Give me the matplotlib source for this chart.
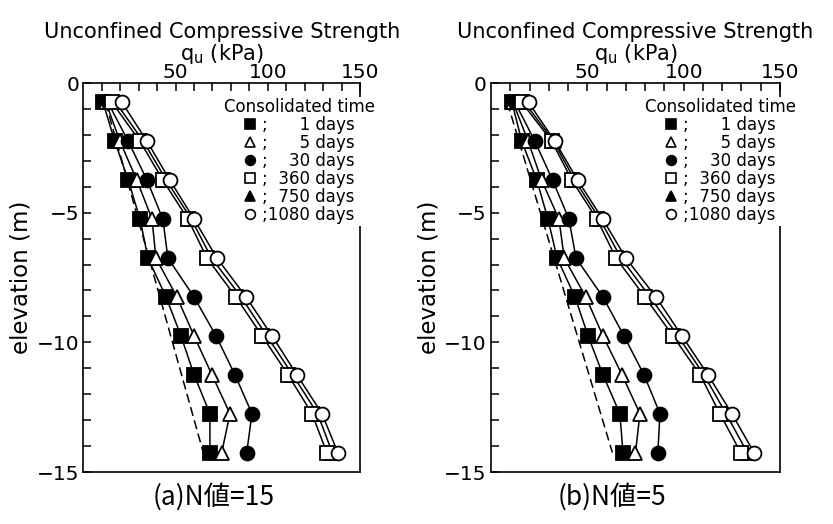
import numpy as np
import matplotlib.pyplot as plt
from matplotlib.lines import Line2D

# depth of each test point (m)
depth = [-0.75, -2.25, -3.75, -5.25, -6.75, -8.25, -9.75, -11.25, -12.75, -14.25]
days = ['1', '5', '30', '360', '750', '1080']

# (a) N = 15, qu (kPa) per consolidation time
qu_a_1 = [10.6, 17.0, 24.3, 30.7, 35.0, 44.8, 52.9, 60.0, 68.6, 68.6]
qu_a_5 = [12.2, 19.8, 29.0, 37.2, 39.3, 50.7, 60.0, 69.7, 79.5, 75.0]
qu_a_30 = [13.3, 24.3, 34.5, 43.1, 45.8, 60.0, 71.9, 82.2, 91.4, 88.6]
qu_a_360 = [15.5, 30.7, 43.1, 56.7, 67.0, 82.7, 96.9, 111.0, 124.0, 132.0]
qu_a_750 = [17.5, 32.5, 45.0, 58.5, 69.5, 85.5, 99.5, 113.5, 127.0, 135.0]
qu_a_1080 = [20.9, 34.5, 46.9, 60.0, 72.4, 88.2, 102.3, 115.8, 129.4, 138.0]
dash_depth = [-0.75, -14.25]
dash_a = [12.0, 65.0]

# (b) N = 5
qu_b_1 = [10.9, 16.0, 23.8, 29.6, 34.3, 43.6, 50.4, 58.1, 66.9, 68.5]
qu_b_5 = [11.5, 19.3, 26.3, 35.3, 38.0, 49.2, 58.1, 68.0, 77.3, 75.0]
qu_b_30 = [12.5, 22.8, 32.0, 40.5, 44.1, 58.1, 69.0, 79.4, 87.7, 86.6]
qu_b_360 = [16.0, 31.6, 42.0, 55.0, 64.9, 79.9, 94.4, 108.5, 118.8, 129.6]
qu_b_750 = [17.5, 32.5, 43.5, 56.5, 67.5, 82.5, 97.0, 110.5, 122.0, 133.0]
qu_b_1080 = [19.5, 33.2, 45.0, 58.0, 70.0, 85.6, 99.1, 112.6, 125.0, 136.5]
dash_b = [8.5, 63.0]

# marker style: (marker, facecolor)
styles = [('s', 'black'), ('^', 'white'), ('o', 'black'),
          ('s', 'white'), ('^', 'black'), ('o', 'white')]

plt.rcParams['font.family'] = ['DejaVu Sans']

fig = plt.figure(figsize=(8.33, 5.24), dpi=100)
ax_a = fig.add_axes([0.1002, 0.0992, 0.3319, 0.7424])
ax_b = fig.add_axes([0.5894, 0.0992, 0.3470, 0.7424])


def draw_panel(ax, series, dash):
    # 750 days first so its markers sit under the open ones
    order = [4, 0, 1, 2, 3, 5]
    for i in order:
        m, fc = styles[i]
        ax.plot(series[i], depth, '-', color='black', lw=1.1,
                marker=m, markersize=10, markerfacecolor=fc,
                markeredgecolor='black', markeredgewidth=1.3, zorder=3)
    ax.plot(dash, dash_depth, '--', color='black', lw=1.1, dashes=(6, 3), zorder=2)

    ax.set_xlim(0, 150)
    ax.set_ylim(-15, 0)
    ax.xaxis.tick_top()
    ax.xaxis.set_label_position('top')
    ax.set_xticks([50, 100, 150])
    ax.set_xticks(np.arange(10, 151, 10), minor=True)
    ax.set_yticks([0, -5, -10, -15])
    ax.set_yticks(np.arange(-14, 0, 1), minor=True)
    ax.tick_params(which='both', direction='in', length=6, width=1.1,
                   labelsize=14.5, top=True, bottom=False, left=True, right=False)
    ax.tick_params(axis='x', pad=1)
    ax.tick_params(axis='y', pad=3)
    for s in ax.spines.values():
        s.set_linewidth(1.2)

    ax.set_xlabel('q$_\\mathregular{u}$ (kPa)', fontsize=15, labelpad=2)
    ax.set_title('Unconfined Compressive Strength', fontsize=15, pad=3)
    ax.set_ylabel('elevation (m)', fontsize=16.5, labelpad=3)

    handles = [Line2D([], [], ls='none', marker=m, markersize=7,
                      markerfacecolor=fc, markeredgecolor='black',
                      markeredgewidth=1.2) for m, fc in styles]
    labels = [';' + '\u2007' * (4 - len(d)) + d + ' days' for d in days]
    leg = ax.legend(handles, labels, title='Consolidated time',
                    loc='upper right', bbox_to_anchor=(1.06, 0.965),
                    fontsize=12, title_fontsize=12, frameon=True,
                    fancybox=False, framealpha=1, facecolor='white',
                    edgecolor='none', borderpad=0.1, labelspacing=0,
                    handlelength=0.8, handletextpad=0.3, borderaxespad=0)
    leg.set_zorder(10)


draw_panel(ax_a, [qu_a_1, qu_a_5, qu_a_30, qu_a_360, qu_a_750, qu_a_1080], dash_a)
draw_panel(ax_b, [qu_b_1, qu_b_5, qu_b_30, qu_b_360, qu_b_750, qu_b_1080], dash_b)

fig.text(0.257, 0.052, '(a)N値=15', ha='center', va='center', fontsize=19,
         family=['Noto Sans CJK JP', 'DejaVu Sans'])
fig.text(0.735, 0.052, '(b)N値=5', ha='center', va='center', fontsize=19,
         family=['Noto Sans CJK JP', 'DejaVu Sans'])

fig.savefig('out.png', dpi=100, facecolor='white')
